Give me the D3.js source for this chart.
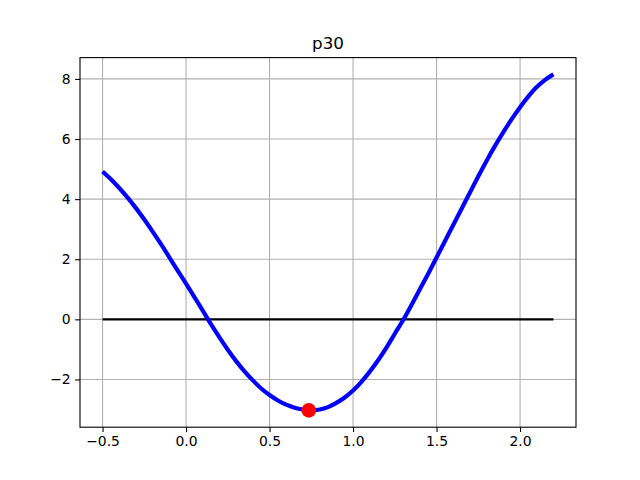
<!DOCTYPE html>
<html>
<head>
<meta charset="utf-8">
<script src="https://cdn.jsdelivr.net/npm/d3@7"></script>
<style>
  html, body { margin: 0; padding: 0; background: #fff; }
  svg { display: block; }
  text { font-family: "DejaVu Sans", sans-serif; }
</style>
</head>
<body>
<svg id="chart" width="640" height="480"></svg>
<script>
// ---- data ----
const title = "p30";
const xValues = [-0.5, -0.45, -0.4, -0.35, -0.3, -0.25, -0.2, -0.15, -0.1, -0.05,
  0.0, 0.05, 0.1, 0.15, 0.2, 0.25, 0.3, 0.35, 0.4, 0.45,
  0.5, 0.55, 0.6, 0.65, 0.7, 0.75, 0.8, 0.85, 0.9, 0.95,
  1.0, 1.05, 1.1, 1.15, 1.2, 1.25, 1.3, 1.35, 1.4, 1.45,
  1.5, 1.55, 1.6, 1.65, 1.7, 1.75, 1.8, 1.85, 1.9, 1.95,
  2.0, 2.05, 2.1, 2.15, 2.2];
const yValues = [4.92, 4.66, 4.37, 4.05, 3.70, 3.32, 2.92, 2.50, 2.06, 1.62,
  1.19, 0.74, 0.29, -0.17, -0.60, -1.01, -1.39, -1.73, -2.03, -2.30,
  -2.52, -2.70, -2.84, -2.94, -3.00, -3.03, -3.00, -2.92, -2.78, -2.60,
  -2.37, -2.08, -1.74, -1.36, -0.94, -0.48, -0.02, 0.48, 1.00, 1.52,
  2.06, 2.60, 3.14, 3.68, 4.22, 4.76, 5.28, 5.77, 6.23, 6.66,
  7.06, 7.42, 7.73, 7.97, 8.15];
const minPointX = [0.735];
const minPointY = [-3.03];
const zeroLineX = [-0.5, 2.2];
const zeroLineY = [0, 0];
const xTicks = [-0.5, 0.0, 0.5, 1.0, 1.5, 2.0];
const yTicks = [-2, 0, 2, 4, 6, 8];

// ---- layout ----
const W = 640, H = 480;
const mLeft = 80, mRight = 576, mTop = 57.6, mBottom = 427.2;

const allX = xValues.concat(minPointX, zeroLineX);
const allY = yValues.concat(minPointY, zeroLineY);
const [x0, x1] = d3.extent(allX);
const [y0, y1] = d3.extent(allY);
const xm = (x1 - x0) * 0.05, ym = (y1 - y0) * 0.05;

const x = d3.scaleLinear().domain([x0 - xm, x1 + xm]).range([mLeft, mRight]);
const y = d3.scaleLinear().domain([y0 - ym, y1 + ym]).range([mBottom, mTop]);

const svg = d3.select("#chart");
svg.append("rect").attr("width", W).attr("height", H).attr("fill", "#fff");

// grid
const grid = svg.append("g").attr("stroke", "#b0b0b0").attr("stroke-width", 1.1);
xTicks.forEach(t => grid.append("line")
  .attr("x1", x(t)).attr("x2", x(t)).attr("y1", mTop).attr("y2", mBottom));
yTicks.forEach(t => grid.append("line")
  .attr("x1", mLeft).attr("x2", mRight).attr("y1", y(t)).attr("y2", y(t)));

// axes
const xAxis = d3.axisBottom(x).tickValues(xTicks).tickSize(4.9).tickPadding(4.5)
  .tickFormat(d => (d < 0 ? "\u2212" : "") + Math.abs(d).toFixed(1));
const yAxis = d3.axisLeft(y).tickValues(yTicks).tickSize(4.9).tickPadding(4.5)
  .tickFormat(d => (d < 0 ? "\u2212" : "") + Math.abs(d).toFixed(0));

const gx = svg.append("g").attr("transform", `translate(0,${mBottom})`).call(xAxis);
const gy = svg.append("g").attr("transform", `translate(${mLeft},0)`).call(yAxis);
[gx, gy].forEach(g => {
  g.select(".domain").remove();
  g.selectAll(".tick line").attr("stroke", "#000").attr("stroke-width", 1.1);
  g.selectAll(".tick text").attr("fill", "#000").attr("font-size", "13.9px")
    .attr("font-family", "DejaVu Sans, sans-serif");
});

// zero line
svg.append("path")
  .datum(zeroLineX.map((v, i) => [v, zeroLineY[i]]))
  .attr("fill", "none").attr("stroke", "#000").attr("stroke-width", 2.1)
  .attr("d", d3.line().x(d => x(d[0])).y(d => y(d[1])));

// curve
svg.append("path")
  .datum(xValues.map((v, i) => [v, yValues[i]]))
  .attr("fill", "none").attr("stroke", "#0000ff").attr("stroke-width", 4.2)
  .attr("stroke-linejoin", "round")
  .attr("d", d3.line().x(d => x(d[0])).y(d => y(d[1])).curve(d3.curveCatmullRom));

// min marker
svg.selectAll("circle.min").data(minPointX.map((v, i) => [v, minPointY[i]]))
  .enter().append("circle").attr("class", "min")
  .attr("cx", d => x(d[0])).attr("cy", d => y(d[1])).attr("r", 7.3)
  .attr("fill", "#ff0000");

// frame
svg.append("rect").attr("x", mLeft).attr("y", mTop)
  .attr("width", mRight - mLeft).attr("height", mBottom - mTop)
  .attr("fill", "none").attr("stroke", "#000").attr("stroke-width", 1.1);

// title
svg.append("text").attr("x", (mLeft + mRight) / 2).attr("y", mTop - 8.3)
  .attr("text-anchor", "middle").attr("font-size", "16.7px").attr("fill", "#000")
  .text(title);
</script>
</body>
</html>
